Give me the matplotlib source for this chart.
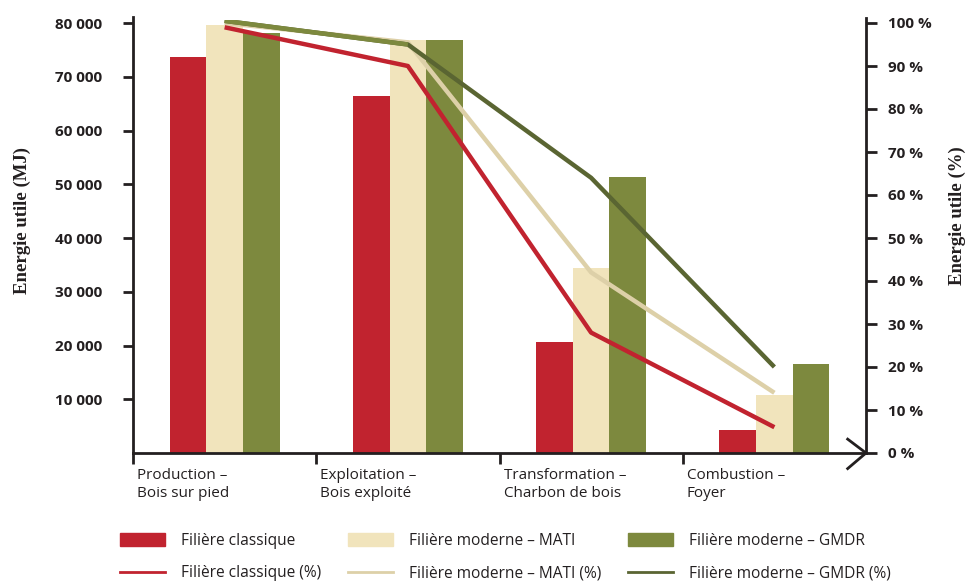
import numpy as np
import matplotlib
matplotlib.use('Agg')
import matplotlib.pyplot as plt
from matplotlib.patches import Patch
from matplotlib.lines import Line2D

plt.rcParams['font.family'] = ['Open Sans', 'DejaVu Sans']

categories = ['Production –\nBois sur pied', 'Exploitation –\nBois exploité',
              'Transformation –\nCharbon de bois', 'Combustion –\nFoyer']
classique = [73700, 66400, 20600, 4300]
mati = [79600, 76800, 34400, 10700]
gmdr = [78200, 76800, 51400, 16600]
classique_pct = [99, 90, 28, 6]
mati_pct = [100, 95.5, 42, 14]
gmdr_pct = [100.5, 95, 64, 20]
yticks_mj = [10000, 20000, 30000, 40000, 50000, 60000, 70000, 80000]
yticks_pct = [0, 10, 20, 30, 40, 50, 60, 70, 80, 90, 100]

red = '#C1232F'
cream = '#F1E4BC'
green = '#7D893E'
cream_line = '#DDD0A8'
green_line = '#5A6532'
dark = '#231F20'

fig = plt.figure(figsize=(9.69, 5.81), dpi=100)
ax = fig.add_axes([133 / 969, 1 - 453 / 581, 733 / 969, 433 / 581])
ax2 = ax.twinx()

x = np.arange(len(categories)) + 0.5
w = 0.2
ax.bar(x - w, classique, w, color=red)
ax.bar(x, mati, w, color=cream)
ax.bar(x + w, gmdr, w, color=green)

ax2.plot(x, mati_pct, color=cream_line, lw=3.2, solid_capstyle='butt')
ax2.plot(x, gmdr_pct, color=green_line, lw=3.2, solid_capstyle='butt')
ax2.plot(x[:2], gmdr_pct[:2], color=green, lw=3.2, solid_capstyle='butt')
ax2.plot(x, classique_pct, color=red, lw=3.2, solid_capstyle='butt')

ax.set_xlim(0, 4)
ax.set_ylim(0, 433 / 5.375 * 1000)
ax2.set_ylim(0, 433 / 4.3)

ax.set_yticks(yticks_mj)
ax.set_yticklabels([f'{v:,}'.replace(',', ' ') for v in yticks_mj],
                   fontweight='bold', fontsize=11, color=dark)
ax2.set_yticks(yticks_pct)
ax2.set_yticklabels([f'{v} %' for v in yticks_pct],
                    fontweight='bold', fontsize=11, color=dark)
ax.set_xticks([0, 1, 2, 3])
ax.set_xticklabels([])

for a in (ax, ax2):
    for s in a.spines.values():
        s.set_visible(False)
ax.spines['left'].set_visible(True)
ax.spines['bottom'].set_visible(True)
ax2.spines['right'].set_visible(True)
for s in (ax.spines['left'], ax.spines['bottom'], ax2.spines['right']):
    s.set_linewidth(2)
    s.set_color(dark)
ax.spines['left'].set_bounds(0, 81200)
ax2.spines['right'].set_bounds(0, 101.2)

ax.tick_params(axis='y', length=7, width=2, color=dark, pad=15)
ax.tick_params(axis='x', length=8, width=2, color=dark)
ax2.tick_params(axis='y', length=8, width=2, color=dark, pad=8)

# arrow head at the end of the x axis
ax.plot([0.975, 1.0, 0.975], [0.032, 0.0, -0.036], transform=ax.transAxes,
        color=dark, lw=2, clip_on=False)

for i, c in enumerate(categories):
    ax.text(i + 0.022, -0.035, c, transform=ax.get_xaxis_transform(),
            ha='left', va='top', fontsize=11, color=dark, linespacing=1.3)

fig.text(22 / 969, 1 - 220 / 581, 'Energie utile (MJ)', rotation=90,
         ha='center', va='center', fontsize=13.5, fontweight='bold',
         family='Liberation Serif', color=dark)
fig.text(957 / 969, 1 - 216 / 581, 'Energie utile (%)', rotation=90,
         ha='center', va='center', fontsize=13.5, fontweight='bold',
         family='Liberation Serif', color=dark)

handles = [Patch(color=red), Patch(color=cream), Patch(color=green),
           Line2D([], [], color=red, lw=2), Line2D([], [], color=cream_line, lw=2),
           Line2D([], [], color=green_line, lw=2)]
labels = ['Filière classique', 'Filière moderne – MATI', 'Filière moderne – GMDR',
          'Filière classique (%)', 'Filière moderne – MATI (%)',
          'Filière moderne – GMDR (%)']
order = [0, 3, 1, 4, 2, 5]
fig.legend([handles[i] for i in order], [labels[i] for i in order], ncol=3,
           loc='upper left', bbox_to_anchor=(120 / 969, 1 - 533 / 581),
           frameon=False, fontsize=11.2, handlelength=2.9, handleheight=0.85,
           handletextpad=1.0, columnspacing=1.75, labelspacing=1.05,
           borderpad=0, borderaxespad=0, labelcolor=dark)

fig.savefig('out.png', dpi=100)
